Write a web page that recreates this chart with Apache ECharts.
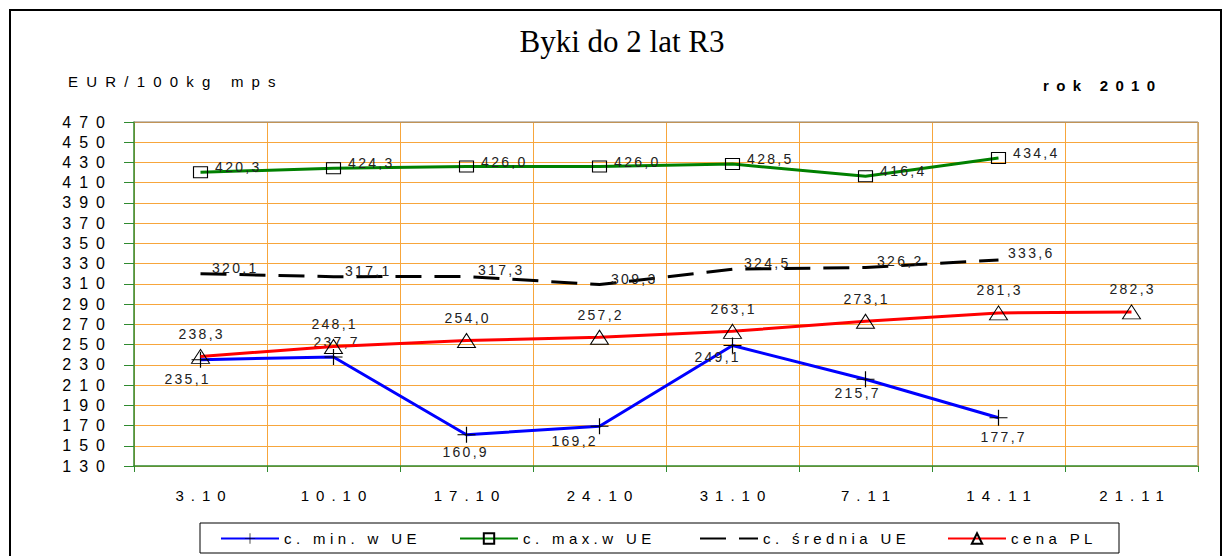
<!DOCTYPE html>
<html><head><meta charset="utf-8">
<script src="https://cdn.jsdelivr.net/npm/echarts@6/dist/echarts.min.js"></script>
<style>html,body{margin:0;padding:0;background:#fff}#c{width:1224px;height:556px}</style>
</head><body><div id="c"></div><script>
// ---- data ----
const categories = ['3.10','10.10','17.10','24.10','31.10','7.11','14.11','21.11'];
const minUE   = [235.1, 237.7, 160.9, 169.2, 249.1, 215.7, 177.7, null];
const maxUE   = [420.3, 424.3, 426.0, 426.0, 428.5, 416.4, 434.4, null];
const avgUE   = [320.1, 317.1, 317.3, 309.3, 324.5, 326.2, 333.6, null];
const pricePL = [238.3, 248.1, 254.0, 257.2, 263.1, 273.1, 281.3, 282.3];
const seriesNames = ['c. min. w UE','c. max.w UE','c. średnia UE','cena PL'];
const titleText = 'Byki do 2 lat R3';
const unitText = 'EUR/100kg mps';
const yearText = 'rok 2010';
const yMin = 130, yMax = 470, yStep = 20;

// ---- styling ----
const SANS = '"Liberation Sans", Arial, sans-serif';
const GREEN_AX = '#2f8a2f';
const ORANGE = '#f7a63c';
const fmt = v => (v == null ? '' : v.toFixed(1).replace('.', ','));

const minLabelPos = [
  {position:'bottom', offset:[-14,0]}, {position:'top', offset:[2,4]},
  {position:'bottom', offset:[-2,-2]}, {position:'bottom', offset:[-26,-4]},
  {position:'bottom', offset:[-16,-7]}, {position:'bottom', offset:[-9,-5]},
  {position:'bottom', offset:[4,0]}
];
const avgLabelOff = [[0,-6],[0,-6],[0,-6],[0,-6],[0,-6],[0,-6],[-2,-7]];

function withLabels(arr, cfgFn) {
  return arr.map((v, i) => v == null ? null : ({ value: v, label: cfgFn(i) }));
}
const labelBase = { show: true, formatter: p => fmt(p.value), color: '#222', fontSize: 14, fontFamily: SANS };

const chart = echarts.init(document.getElementById('c'), null, { renderer: 'svg' });

const legendX = [220, 459, 699, 947];
const legends = seriesNames.map((n, i) => ({
  data: [n], left: legendX[i], top: 531, padding: 0, itemWidth: 58, itemHeight: 13, itemGap: 0,
  textStyle: { fontSize: 15, fontFamily: SANS, color: '#000' }, selectedMode: false
}));

const option = {
  animation: false,
  backgroundColor: '#fff',
  grid: { left: 134, right: 26, top: 122, bottom: 90, show: false },
  legend: legends,
  xAxis: {
    type: 'category', data: categories, boundaryGap: true,
    axisLine: { lineStyle: { color: GREEN_AX, width: 1.5 } },
    axisTick: { show: true, length: 6, lineStyle: { color: GREEN_AX } },
    splitLine: { show: true, lineStyle: { color: ORANGE, width: 1 } },
    axisLabel: { interval: 0, fontSize: 15, fontFamily: SANS, color: '#000', margin: 22 }
  },
  yAxis: {
    type: 'value', min: yMin, max: yMax, interval: yStep,
    axisLine: { show: true, lineStyle: { color: GREEN_AX, width: 1.5 } },
    axisTick: { show: true, length: 10, lineStyle: { color: GREEN_AX } },
    splitLine: { show: true, lineStyle: { color: ORANGE, width: 1 } },
    axisLabel: { fontSize: 16, fontFamily: SANS, color: '#000', margin: 29 }
  },
  graphic: [
    { type: 'rect', shape: { x: 10, y: 10, width: 1211, height: 600 }, style: { fill: 'none', stroke: '#000', lineWidth: 2 }, silent: true, z: -1 },
    { type: 'text', x: 622, y: 41, style: { text: titleText, font: '31px "Liberation Serif", "Times New Roman", serif', fill: '#000', textAlign: 'center', textVerticalAlign: 'middle' } },
    { type: 'text', x: 68, y: 81, style: { text: unitText, font: '15px ' + SANS, fill: '#000', textAlign: 'left', textVerticalAlign: 'middle' } },
    { type: 'text', x: 1155, y: 85, style: { text: yearText, font: 'bold 15px ' + SANS, fill: '#000', textAlign: 'right', textVerticalAlign: 'middle' } },
    { type: 'rect', shape: { x: 200, y: 523, width: 919, height: 30 }, style: { fill: 'none', stroke: '#000', lineWidth: 1 }, silent: true },
    { type: 'line', shape: { x1: 134, y1: 122, x2: 1198, y2: 122 }, style: { stroke: '#8c8070', lineWidth: 1.2 }, silent: true, z: 1 },
    { type: 'line', shape: { x1: 1198, y1: 122, x2: 1198, y2: 466 }, style: { stroke: '#bfa274', lineWidth: 1.5 }, silent: true, z: 1 }
  ],
  series: [
    {
      name: seriesNames[0], type: 'line', z: 3,
      data: withLabels(minUE, i => Object.assign({}, labelBase, minLabelPos[i], { distance: 4 })),
      symbol: 'path://M0,5.6H12V6.4H0Z M5.6,0H6.4V12H5.6Z', symbolSize: [18, 16],
      lineStyle: { color: '#0000ff', width: 3 }, itemStyle: { color: '#000' }
    },
    {
      name: seriesNames[1], type: 'line', z: 3,
      data: withLabels(maxUE, i => Object.assign({}, labelBase, { position: 'right', offset: [0, -5], distance: 7 })),
      symbol: 'rect', symbolSize: [14, 11],
      lineStyle: { color: '#008000', width: 3 }, itemStyle: { color: 'rgba(0,0,0,0)', borderColor: '#000', borderWidth: 1 }
    },
    {
      name: seriesNames[2], type: 'line', z: 2,
      data: withLabels(avgUE, i => Object.assign({}, labelBase, { position: 'right', offset: avgLabelOff[i], distance: 11 })),
      symbol: 'circle', symbolSize: 1,
      lineStyle: { color: '#000', width: 3, type: [26, 13] },
      itemStyle: { color: 'rgba(0,0,0,0)', borderWidth: 0 }
    },
    {
      name: seriesNames[3], type: 'line', z: 4,
      data: withLabels(pricePL, i => Object.assign({}, labelBase, { position: 'top', distance: 8 })),
      symbol: 'triangle', symbolSize: [18, 14],
      lineStyle: { color: '#ff0000', width: 3 }, itemStyle: { color: 'rgba(0,0,0,0)', borderColor: '#000', borderWidth: 1 }
    }
  ]
};
chart.setOption(option);

// ---- letter spacing (the reference uses expanded character spacing) ----
const spacing = { y: 8, x: 7, data: 2.3, unit: 8.2, year: 7.3, legend: 4.4 };
function cls(t) {
  if (/^\d{3}$/.test(t)) return 'y';
  if (/^\d+\.\d+$/.test(t)) return 'x';
  if (/^\d+,\d$/.test(t)) return 'data';
  if (t === unitText) return 'unit';
  if (t === yearText) return 'year';
  if (seriesNames.indexOf(t) >= 0) return 'legend';
  return null;
}
function applySpacing() {
  document.querySelectorAll('#c svg text').forEach(el => {
    if (el.getAttribute('data-sp')) return;
    const t = el.textContent;
    const c = cls(t);
    if (!c) return;
    const w = el.getComputedTextLength();
    const n = Array.from(t).length;
    el.setAttribute('textLength', (w + spacing[c] * (n - 1)).toFixed(2));
    el.setAttribute('lengthAdjust', 'spacing');
    el.setAttribute('data-sp', '1');
  });
}
applySpacing();
chart.on('finished', applySpacing);
setTimeout(applySpacing, 50);
</script></body></html>
